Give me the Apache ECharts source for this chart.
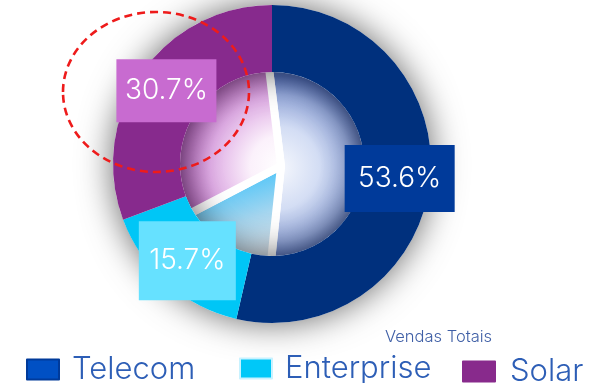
<!DOCTYPE html>
<html>
<head>
<meta charset="utf-8">
<script src="https://cdn.jsdelivr.net/npm/echarts@6/dist/echarts.min.js"></script>
<style>
  html, body { margin: 0; padding: 0; background: #ffffff; }
  #chart { width: 599px; height: 383px; }
</style>
</head>
<body>
<div id="chart"></div>
<script>
// Sales share by business unit (percent)
const categories = ['Telecom', 'Enterprise', 'Solar'];
const shares = [53.6, 15.7, 30.7];
const chartTitle = 'Vendas Totais';

// Visual styling, kept apart from the values
const ringColors = ['#00307d', '#00c6f6', '#872a8d'];
const legendIconColors = ['#0050c4', '#00c8f8', '#882a8c'];
const legendIconBorders = ['#003a9a', '#c8f2ff', '#882a8c'];
const labelBoxColors = ['#003a9a', '#66e1ff', '#c86bd0'];
const labelBoxSizes = [[110, 67], [97, 79], [100, 63]];
const legendLefts = [26, 239, 462];
const legendTops = [354, 353, 356];

const FONT = 'Inter, "Noto Sans", sans-serif';
const G = echarts.graphic;

// Soft gradient fills for the inner "glass" pie
const innerFills = [
  new G.RadialGradient(278, 168, 92, [
    { offset: 0, color: '#f6f8fd' },
    { offset: 0.45, color: '#d3ddf4' },
    { offset: 0.8, color: '#93a7da' },
    { offset: 1, color: '#5470bb' }
  ], true),
  new G.LinearGradient(232, 188, 254, 254, [
    { offset: 0, color: '#5ec8f7' },
    { offset: 0.5, color: '#a6d6ef' },
    { offset: 1, color: '#d6e2ec' }
  ], true),
  new G.RadialGradient(281, 166, 102, [
    { offset: 0, color: '#ffffff' },
    { offset: 0.3, color: '#fbf1fb' },
    { offset: 0.7, color: '#deaae4' },
    { offset: 1, color: '#b262ba' }
  ], true)
];

const total = shares.reduce((a, b) => a + b, 0);

const ringData = categories.map((name, i) => ({
  name,
  value: shares[i],
  itemStyle: { color: ringColors[i] },
  label: {
    backgroundColor: labelBoxColors[i],
    width: labelBoxSizes[i][0],
    height: labelBoxSizes[i][1],
    lineHeight: labelBoxSizes[i][1]
  }
}));

const innerData = categories.map((name, i) => ({
  name,
  value: shares[i],
  itemStyle: { color: innerFills[i] }
}));

const legends = categories.map((name, i) => ({
  left: legendLefts[i],
  top: legendTops[i],
  padding: 0,
  orient: 'horizontal',
  selectedMode: false,
  itemWidth: 32,
  itemHeight: 20,
  icon: 'rect',
  data: [{
    name,
    itemStyle: { color: legendIconColors[i], borderColor: legendIconBorders[i], borderWidth: 2 }
  }],
  textStyle: {
    fontFamily: FONT,
    fontSize: 31,
    fontWeight: 300,
    color: '#2d5eb6',
    padding: [0, 0, 0, i === 2 ? 10 : 8]
  }
}));

const chart = echarts.init(document.getElementById('chart'), null, { renderer: 'canvas' });

chart.setOption({
  animation: false,
  backgroundColor: '#ffffff',
  title: {
    text: chartTitle,
    left: 385,
    top: 329,
    padding: 0,
    textStyle: { fontFamily: FONT, fontSize: 16.5, fontWeight: 300, color: '#3f5fa6' }
  },
  legend: legends,
  series: [
    {
      // inner glass pie
      type: 'pie',
      z: 1,
      silent: true,
      center: [281, 166],
      radius: 108,
      startAngle: 97,
      clockwise: true,
      label: { show: false },
      labelLine: { show: false },
      itemStyle: { borderColor: '#ffffff', borderWidth: 8 },
      data: innerData
    },
    {
      // shadow halo under the ring
      type: 'pie',
      z: 2,
      silent: true,
      center: [272, 164],
      radius: [92, 159],
      label: { show: false },
      labelLine: { show: false },
      itemStyle: { color: '#ffffff', shadowBlur: 34, shadowColor: 'rgba(0,0,0,0.6)' },
      data: [{ value: total, name: '' }]
    },
    {
      type: 'pie',
      z: 3,
      center: [272, 164],
      radius: [92, 159],
      startAngle: 90,
      clockwise: true,
      avoidLabelOverlap: false,
      label: {
        show: true,
        position: 'inside',
        formatter: p => p.value.toFixed(1) + '%',
        fontFamily: FONT,
        fontSize: 28,
        fontWeight: 300,
        color: '#ffffff',
        align: 'center',
        verticalAlign: 'middle'
      },
      labelLine: { show: false },
      emphasis: { disabled: true },
      data: ringData
    }
  ],
  graphic: [
    {
      type: 'ellipse',
      z: 100,
      silent: true,
      shape: { cx: 156, cy: 92, rx: 93, ry: 80 },
      style: { fill: 'none', stroke: '#ee1b1b', lineWidth: 2.6, lineDash: [8, 5] }
    }
  ]
});
</script>
</body>
</html>
